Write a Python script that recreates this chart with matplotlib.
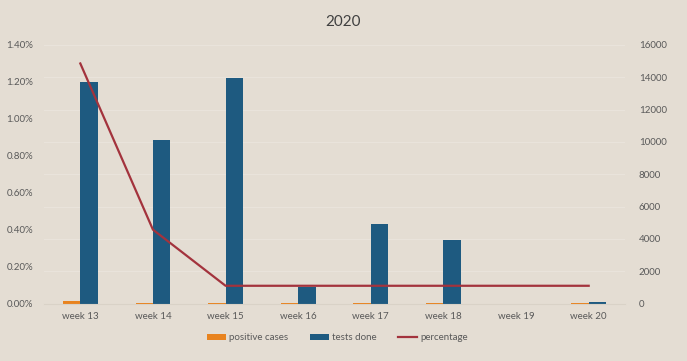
import numpy as np
import matplotlib.pyplot as plt
from matplotlib.ticker import FuncFormatter

weeks = ['week 13', 'week 14', 'week 15', 'week 16', 'week 17', 'week 18', 'week 19', 'week 20']
positive_cases = [180, 40, 30, 30, 30, 30, 0, 30]
tests_done = [13700, 10150, 13950, 1000, 4900, 3900, 0, 120]
percentage = [1.30, 0.40, 0.096, 0.096, 0.096, 0.096, 0.096, 0.096]  # in %

bg = '#E4DDD3'
c_orange = '#E8831F'
c_blue = '#1E5A80'
c_line = '#A3333D'
c_text = '#595959'

plt.rcParams['font.family'] = ['Lato', 'DejaVu Sans']

fig = plt.figure(figsize=(6.87, 3.61), dpi=100, facecolor=bg)
ax = fig.add_axes([44 / 687, 1 - 303.5 / 361, 581 / 687, 258.5 / 361])
ax.set_facecolor(bg)
ax2 = ax.twinx()

x = np.arange(len(weeks))
w = 0.24

# bars on the secondary axis (counts)
ax2.bar(x - w / 2, positive_cases, w, color=c_orange, label='positive cases', zorder=2)
ax2.bar(x + w / 2, tests_done, w, color=c_blue, label='tests done', zorder=2)
ax2.set_ylim(0, 16000)
ax2.set_yticks(np.arange(0, 16001, 2000))

# percentage line on the primary axis
ax.set_zorder(ax2.get_zorder() + 1)
ax.patch.set_visible(False)
line, = ax.plot(x, percentage, color=c_line, linewidth=1.6, label='percentage', zorder=3)
ax.set_ylim(0, 1.4)
ax.set_yticks(np.arange(0, 1.41, 0.2))
ax.yaxis.set_major_formatter(FuncFormatter(lambda v, p: '{:.2f}%'.format(v)))
ax.set_xlim(-0.5, len(weeks) - 0.5)
ax.set_xticks(x)
ax.set_xticklabels(weeks)

# gridlines drawn behind everything, on the bar axis
ax2.grid(axis='y', color='#E9E3DB', linewidth=0.8, zorder=0)
ax2.set_axisbelow(True)
fig.patch.set_facecolor(bg)
ax2.patch.set_facecolor(bg)

for a in (ax, ax2):
    for s in a.spines.values():
        s.set_visible(False)
    a.tick_params(length=0, colors=c_text, labelsize=7)
ax.spines['bottom'].set_visible(True)
ax.spines['bottom'].set_color('#D9D2C7')
ax.tick_params(axis='y', pad=8)
ax2.tick_params(axis='y', pad=10)
ax.tick_params(axis='x', pad=6)

fig.text(0.5, 1 - 22 / 361, '2020', ha='center', va='center', fontsize=11, color='#404040')

handles = [ax2.patches[0], ax2.patches[len(weeks)], line]
fig.legend(handles, ['positive cases', 'tests done', 'percentage'], loc='center',
           bbox_to_anchor=(0.491, 1 - 338 / 361), ncol=3, frameon=False, fontsize=7,
           labelcolor=c_text, handlelength=2.0, handleheight=0.5, columnspacing=2.2,
           handletextpad=0.3)

fig.savefig('out.png', dpi=100, facecolor=bg)
